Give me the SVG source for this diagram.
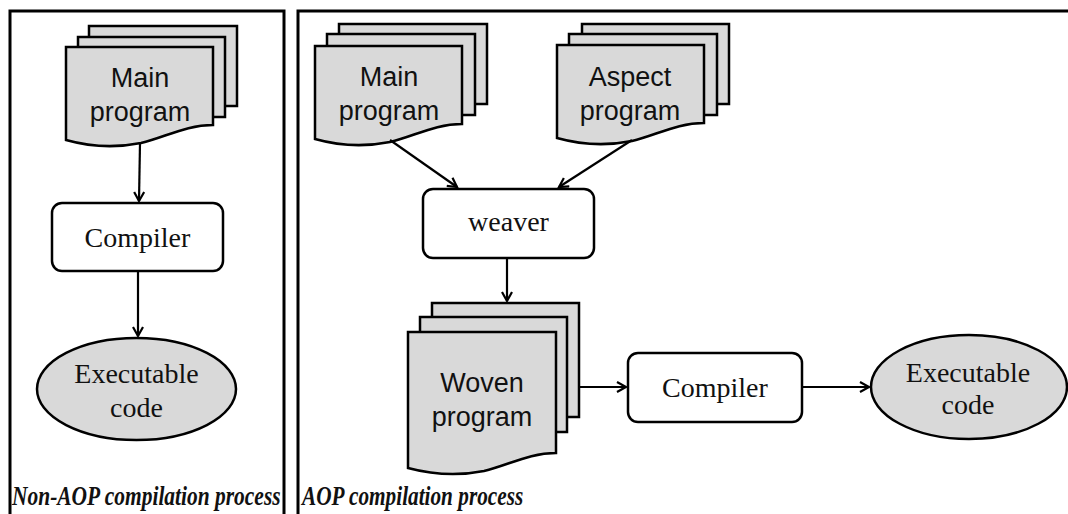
<svg xmlns="http://www.w3.org/2000/svg" width="1068" height="514" viewBox="0 0 1068 514">
<defs>
<style>
.frame{fill:none;stroke:#000;stroke-width:3}
.doc{fill:#d9d9d9;stroke:#000;stroke-width:2.5;stroke-linejoin:miter}
.box{fill:#fff;stroke:#000;stroke-width:2.5}
.ell{fill:#d9d9d9;stroke:#000;stroke-width:2.5}
.sans{font-family:"Liberation Sans",Arial,sans-serif;font-size:27px;fill:#111;text-anchor:middle}
.serif{font-family:"Liberation Serif","Times New Roman",serif;font-size:28px;fill:#111;text-anchor:middle}
.cap{font-family:"Liberation Serif","Times New Roman",serif;font-size:27px;font-weight:bold;font-style:italic;fill:#111}
.conn{fill:none;stroke:#000;stroke-width:2.2}
</style>
<marker id="arr" markerWidth="14" markerHeight="14" refX="10" refY="6" orient="auto" markerUnits="userSpaceOnUse">
<path d="M1,1 L10,6 L1,11" fill="none" stroke="#000" stroke-width="2.2"/>
</marker>
<path id="docFront" d="M0,0 H147 V78 C120,78 100,90 75,96 C50,101 25,100 0,93 Z"/>
</defs>
<rect width="1068" height="514" fill="#fff"/>

<g id="frame-left">
<rect class="frame" x="10" y="11" width="274" height="520"/>
<text class="cap" transform="translate(12,505) scale(0.79,1)" x="0" y="0" textLength="340" lengthAdjust="spacingAndGlyphs">Non-AOP compilation process</text>
</g>
<g id="frame-right">
<rect class="frame" x="298" y="11" width="800" height="520"/>
<text class="cap" transform="translate(302,505) scale(0.79,1)" x="0" y="0" textLength="280" lengthAdjust="spacingAndGlyphs">AOP compilation process</text>
</g>

<g id="left-main-program">
<rect class="doc" x="89" y="26" width="148" height="80"/>
<rect class="doc" x="78" y="37" width="147" height="80"/>
<use href="#docFront" class="doc" x="66" y="47"/>
<text class="sans" x="140" y="87">Main</text>
<text class="sans" x="140" y="121">program</text>
</g>

<g id="left-compiler">
<rect class="box" x="52" y="203" width="171" height="68" rx="10"/>
<text class="serif" x="137.5" y="247">Compiler</text>
</g>

<g id="left-executable">
<ellipse class="ell" cx="136.5" cy="389" rx="99.5" ry="51"/>
<text class="serif" x="136.5" y="383">Executable</text>
<text class="serif" x="136.5" y="417">code</text>
</g>

<g id="main-program">
<rect class="doc" x="339" y="24" width="148" height="80"/>
<rect class="doc" x="327" y="34" width="148" height="81"/>
<use href="#docFront" class="doc" x="315" y="46"/>
<text class="sans" x="389" y="86">Main</text>
<text class="sans" x="389" y="120">program</text>
</g>

<g id="aspect-program">
<rect class="doc" x="582" y="24" width="147" height="80"/>
<rect class="doc" x="569" y="34" width="148" height="81"/>
<use href="#docFront" class="doc" x="557" y="45"/>
<text class="sans" x="630" y="86">Aspect</text>
<text class="sans" x="630" y="120">program</text>
</g>

<g id="weaver">
<rect class="box" x="423" y="189" width="171" height="69" rx="10"/>
<text class="serif" x="508.5" y="231">weaver</text>
</g>

<g id="woven-program">
<rect class="doc" x="432" y="303" width="147" height="114"/>
<rect class="doc" x="420" y="317" width="147" height="115"/>
<path class="doc" d="M408,332 H556 V453 C529,453 509,465 484,471 C459,476 434,475 408,468 Z"/>
<text class="sans" x="482" y="392">Woven</text>
<text class="sans" x="482" y="426">program</text>
</g>

<g id="right-compiler">
<rect class="box" x="628" y="353" width="174" height="69" rx="10"/>
<text class="serif" x="715" y="397">Compiler</text>
</g>

<g id="right-executable">
<ellipse class="ell" cx="969" cy="387" rx="98" ry="52"/>
<text class="serif" x="968" y="382">Executable</text>
<text class="serif" x="968" y="414">code</text>
</g>

<g id="connectors">
<line class="conn" x1="140" y1="143" x2="139" y2="201" marker-end="url(#arr)"/>
<line class="conn" x1="138" y1="271" x2="138" y2="336" marker-end="url(#arr)"/>
<line class="conn" x1="390" y1="140" x2="457" y2="187" marker-end="url(#arr)"/>
<line class="conn" x1="632" y1="140" x2="559" y2="187" marker-end="url(#arr)"/>
<line class="conn" x1="507" y1="258" x2="507" y2="301" marker-end="url(#arr)"/>
<line class="conn" x1="579" y1="387" x2="626" y2="387" marker-end="url(#arr)"/>
<line class="conn" x1="802" y1="387" x2="869" y2="387" marker-end="url(#arr)"/>
</g>
</svg>
